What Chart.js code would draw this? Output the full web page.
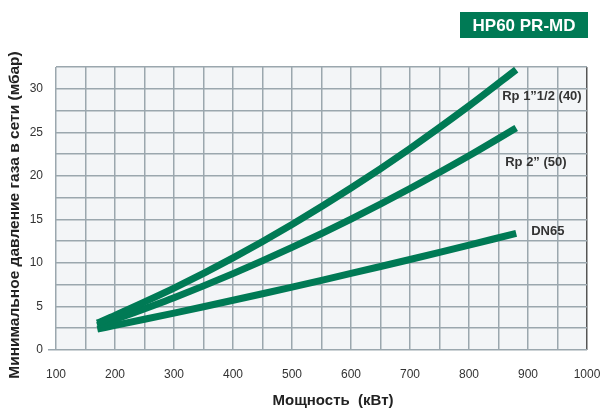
<!DOCTYPE html>
<html>
<head>
<meta charset="utf-8">
<script src="https://cdn.jsdelivr.net/npm/chart.js@4/dist/chart.umd.min.js"></script>
<style>
  html, body { margin: 0; padding: 0; background: #fff; }
  #wrap { width: 604px; height: 410px; position: relative; }
</style>
</head>
<body>
<div id="wrap"><canvas id="chart" width="604" height="410"></canvas></div>
<script>
// данные
const power = [170, 200, 300, 400, 500, 600, 700, 800, 880];
const rp40 = [3.1, 3.97, 7.1, 10.58, 14.42, 18.6, 23.14, 28.03, 32.2];
const rp50 = [2.8, 3.5, 6.01, 8.77, 11.78, 15.04, 18.55, 22.31, 25.5];
const dn65 = [2.4, 2.82, 4.24, 5.71, 7.22, 8.79, 10.39, 12.04, 13.4];
const seriesNames = ["Rp 1\u201d1/2 (40)", "Rp 2\u201d (50)", "DN65"];
const xTicks = [100, 1000, 50]; // min, max, шаг сетки
const yTicks = [0, 32.5, 2.5];

const GREEN = "#007a55";
const GRID = "#9ba7ae";
const FONT = "'Liberation Sans', Arial, sans-serif";

const toPoints = (ys) => ys.map((y, i) => ({ x: power[i], y }));

// смещения подписей от конца линии
const labelOffsets = [
  { dx: -14, dy: 27 },
  { dx: -11, dy: 34 },
  { dx: 15, dy: -2 },
];

const decorPlugin = {
  id: "decor",
  beforeDraw(chart) {
    const { ctx, chartArea: a } = chart;
    ctx.save();
    ctx.fillStyle = "#f3f5f7";
    ctx.fillRect(a.left, a.top, a.right - a.left, a.bottom - a.top);
    ctx.restore();
  },
  afterDraw(chart) {
    const { ctx } = chart;
    ctx.save();

    // плашка с моделью
    ctx.fillStyle = GREEN;
    ctx.fillRect(460, 12, 128, 26);
    ctx.fillStyle = "#fff";
    ctx.font = "bold 17px " + FONT;
    ctx.textAlign = "center";
    ctx.textBaseline = "middle";
    ctx.fillText("HP60 PR-MD", 524, 26);

    // подписи осей
    ctx.fillStyle = "#222";
    ctx.font = "bold 15px " + FONT;
    ctx.fillText("Мощность  (кВт)", 333, 401);
    ctx.save();
    ctx.translate(15, 215);
    ctx.rotate(-Math.PI / 2);
    ctx.font = "bold 15.5px " + FONT;
    ctx.fillText("Минимальное давление газа в сети (мбар)", 0, 0);
    ctx.restore();

    // подписи линий
    ctx.font = "bold 13px " + FONT;
    ctx.fillStyle = "#333";
    ctx.textAlign = "left";
    chart.data.datasets.forEach((ds, i) => {
      const meta = chart.getDatasetMeta(i);
      const last = meta.data[meta.data.length - 1];
      const off = labelOffsets[i];
      ctx.fillText(seriesNames[i], last.x + off.dx, last.y + off.dy);
    });
    ctx.restore();
  },
};

const makeDataset = (label, ys) => ({
  label,
  data: toPoints(ys),
  borderColor: GREEN,
  backgroundColor: GREEN,
  borderWidth: 7,
  borderCapStyle: "butt",
  pointRadius: 0,
  tension: 0.3,
  fill: false,
});

new Chart(document.getElementById("chart"), {
  type: "line",
  data: {
    datasets: [
      makeDataset(seriesNames[0], rp40),
      makeDataset(seriesNames[1], rp50),
      makeDataset(seriesNames[2], dn65),
    ],
  },
  plugins: [decorPlugin],
  options: {
    responsive: false,
    animation: false,
    layout: { padding: { left: 0, right: 17, top: 67, bottom: 0 } },
    plugins: { legend: { display: false }, tooltip: { enabled: false } },
    scales: {
      x: {
        type: "linear",
        min: xTicks[0],
        max: xTicks[1],
        afterFit: (s) => {
          s.height = 60;
          s.paddingLeft = 0;
          s.paddingRight = 0;
        },
        border: { display: false },
        grid: {
          color: (c) => (c.tick && c.tick.value === 1000 ? "#555" : GRID),
          lineWidth: 1.5,
          drawTicks: false,
        },
        ticks: {
          stepSize: xTicks[2],
          autoSkip: false,
          maxRotation: 0,
          padding: 17,
          color: "#333",
          font: { family: FONT, size: 12 },
          callback: (v) => (v % 100 === 0 ? v : ""),
        },
      },
      y: {
        min: yTicks[0],
        max: yTicks[1],
        afterFit: (s) => { s.width = 56; },
        border: { display: false },
        grid: {
          color: GRID,
          lineWidth: 1.5,
          tickLength: 8,
          tickColor: (c) => (c.tick && c.tick.value === 0 ? GRID : "transparent"),
        },
        ticks: {
          stepSize: yTicks[2],
          autoSkip: false,
          padding: 5,
          color: "#333",
          font: { family: FONT, size: 12 },
          callback: (v) => (v % 5 === 0 ? v : ""),
        },
      },
    },
  },
});
</script>
</body>
</html>
